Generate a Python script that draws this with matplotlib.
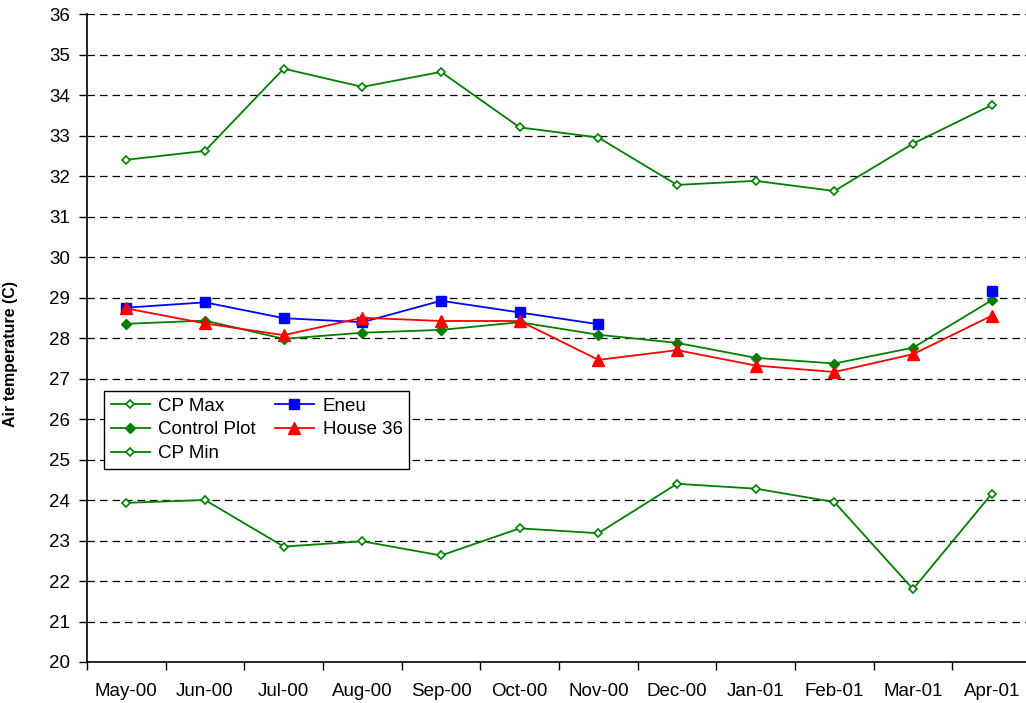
import matplotlib.pyplot as plt
import numpy as np
import matplotlib as mpl

mpl.rcParams["font.family"] = ["Liberation Sans", "DejaVu Sans"]
mpl.rcParams["font.size"] = 13.5

months = ['May-00', 'Jun-00', 'Jul-00', 'Aug-00', 'Sep-00', 'Oct-00',
          'Nov-00', 'Dec-00', 'Jan-01', 'Feb-01', 'Mar-01', 'Apr-01']

cp_max = [32.4, 32.62, 34.65, 34.2, 34.57, 33.2, 32.95, 31.78, 31.88, 31.63, 32.8, 33.75]
control = [28.35, 28.43, 27.98, 28.13, 28.2, 28.39, 28.08, 27.88, 27.51, 27.37, 27.76, 28.93]
cp_min = [23.93, 24.0, 22.85, 22.98, 22.63, 23.3, 23.18, 24.4, 24.28, 23.95, 21.8, 24.15]
eneu = [28.75, 28.88, 28.49, 28.39, 28.92, 28.63, 28.34, np.nan, np.nan, np.nan, np.nan, 29.15]
house36 = [28.73, 28.36, 28.07, 28.5, 28.42, 28.42, 27.46, 27.7, 27.32, 27.16, 27.6, 28.55]

green = '#008000'

fig = plt.figure(figsize=(10.26, 7.03), dpi=100)
ax = fig.add_axes([87/1026, 41/703, 944/1026, 648/703])

x = np.arange(len(months))
ax.plot(x, cp_max, color=green, lw=1.3, marker='D', ms=4.5, mfc='white', mec=green, mew=1.2, label='CP Max')
ax.plot(x, control, color=green, lw=1.3, marker='D', ms=5, mfc=green, mec=green, label='Control Plot')
ax.plot(x, cp_min, color=green, lw=1.3, marker='D', ms=4.5, mfc='white', mec=green, mew=1.2, label='CP Min')
ax.plot(x, eneu, color='blue', lw=1.3, marker='s', ms=7.5, label='Eneu')
ax.plot(x, house36, color='red', lw=1.3, marker='^', ms=8, label='House 36')

ax.set_xlim(-0.5, len(months) - 0.5)
ax.set_ylim(20, 36)
ax.set_yticks(range(20, 37))
ax.set_xticks(x)
ax.set_xticklabels(months)
ax.set_xticks(np.arange(-0.5, len(months)), minor=True)
ax.tick_params(axis='x', which='major', length=0, pad=15)
ax.tick_params(axis='x', which='minor', length=6, direction='out', width=1)
ax.tick_params(axis='y', length=6, direction='out', width=1, pad=6)

for v in range(21, 37):
    ax.axhline(v, color='black', lw=0.9, ls=(0, (6, 4)), zorder=0)

ax.spines['top'].set_visible(False)
ax.spines['right'].set_visible(False)
ax.spines['left'].set_linewidth(1.2)
ax.spines['bottom'].set_linewidth(1.2)

ax.set_ylabel('Air temperature (C)', fontweight='bold', fontsize=11.5)
ax.yaxis.set_label_coords(-0.073, 0.475)

leg = ax.legend(ncol=2, loc='upper left', bbox_to_anchor=(17/944, 271/648),
                borderaxespad=0, frameon=True, fancybox=False, edgecolor='black',
                framealpha=1, borderpad=0.35, handlelength=2.1, handletextpad=0.45,
                columnspacing=1.0, labelspacing=0.35, fontsize=13.5)
leg.get_frame().set_linewidth(1.0)

plt.savefig('out.png', dpi=100)
